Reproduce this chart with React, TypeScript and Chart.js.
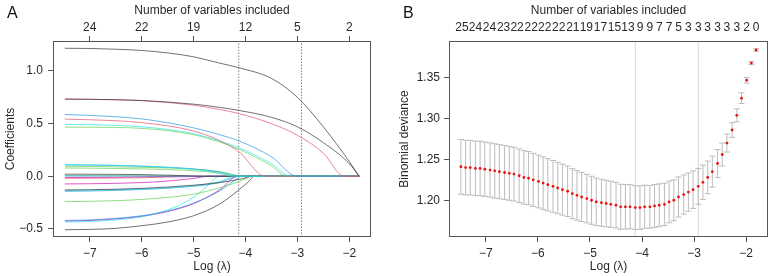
import React, { useEffect, useRef } from "react";
import { Chart, registerables } from "chart.js";
Chart.register(...registerables);

const FONT = "'Liberation Sans', Arial, Helvetica, sans-serif";
const INK = "#2a2a2a";
const FRAME = "#555555";

// ---------- shared lambda grid (log scale) ----------
const LOG_LAMBDA = [
  -7.48, -7.39, -7.30, -7.20, -7.11, -7.02, -6.92, -6.83, -6.74, -6.64,
  -6.55, -6.46, -6.36, -6.27, -6.18, -6.09, -5.99, -5.90, -5.81, -5.71,
  -5.62, -5.53, -5.43, -5.34, -5.25, -5.16, -5.06, -4.97, -4.88, -4.78,
  -4.69, -4.60, -4.50, -4.41, -4.32, -4.23, -4.13, -4.04, -3.95, -3.85,
  -3.76, -3.67, -3.57, -3.48, -3.39, -3.30, -3.20, -3.11, -3.02, -2.92,
  -2.83, -2.74, -2.65, -2.55, -2.46, -2.37, -2.27, -2.18, -2.09, -1.99,
  -1.90, -1.81,
];
const X_MIN = -7.708;
const X_MAX = -1.581;
const X_TICKS = [-7, -6, -5, -4, -3, -2];
const LAMBDA_MIN_LOG = -4.13;
const LAMBDA_1SE_LOG = -2.92;

// ---------- panel B: cross-validation ----------
const CV_MEAN = [
  1.241, 1.240, 1.240, 1.239, 1.239, 1.238, 1.237, 1.236, 1.235, 1.234,
  1.233, 1.232, 1.230, 1.228, 1.227, 1.225, 1.223, 1.221, 1.219, 1.217,
  1.215, 1.213, 1.211, 1.208, 1.206, 1.204, 1.202, 1.200, 1.198, 1.197,
  1.196, 1.195, 1.194, 1.192, 1.192, 1.192, 1.191, 1.191, 1.192, 1.192,
  1.193, 1.194, 1.195, 1.198, 1.200, 1.204, 1.207, 1.210, 1.213, 1.217,
  1.222, 1.228, 1.235, 1.245, 1.256, 1.270, 1.286, 1.304, 1.325, 1.347,
  1.368, 1.384,
];
const CV_SE = [
  0.0335, 0.0335, 0.0334, 0.0334, 0.0333, 0.0333, 0.0332, 0.0332, 0.0331, 0.0330,
  0.0330, 0.0329, 0.0328, 0.0327, 0.0326, 0.0325, 0.0323, 0.0321, 0.0319, 0.0317,
  0.0315, 0.0312, 0.0309, 0.0306, 0.0303, 0.0300, 0.0297, 0.0294, 0.0291, 0.0288,
  0.0285, 0.0282, 0.0279, 0.0276, 0.0273, 0.0270, 0.0268, 0.0266, 0.0264, 0.0262,
  0.0262, 0.0260, 0.0258, 0.0255, 0.0250, 0.0245, 0.0240, 0.0235, 0.0230, 0.0220,
  0.0210, 0.0200, 0.0190, 0.0170, 0.0140, 0.0110, 0.0090, 0.0080, 0.0065, 0.0035,
  0.0020, 0.0015,
];
const NZERO_POS = [
  -7.46, -7.20, -6.93, -6.66, -6.40, -6.13, -5.87, -5.60, -5.33, -5.07, -4.80, -4.53, -4.27,
  -4.04, -3.85, -3.67, -3.48, -3.30, -3.11, -2.92, -2.74, -2.55, -2.37, -2.18, -1.99, -1.81,
];
const NZERO_LABELS = [
  "25", "24", "24", "23", "22", "22", "22", "22", "21", "19", "17", "15", "13",
  "9", "9", "7", "7", "5", "3", "3", "3", "3", "3", "3", "2", "0",
];
const B_Y_MIN = 1.155;
const B_Y_MAX = 1.395;
const B_Y_TICKS = [1.2, 1.25, 1.3, 1.35];

// ---------- panel A: coefficient paths ----------
const COEF_TOP_POS = [-7, -6, -5, -4, -3, -2];
const COEF_TOP_LABELS = ["24", "22", "19", "12", "5", "2"];
const A_Y_MIN = -0.577;
const A_Y_MAX = 1.285;
const A_Y_TICKS = [-0.5, 0, 0.5, 1.0];

const PATH_01 = [[-7.48, 1.216], [-7, 1.214], [-6.5, 1.207], [-6, 1.195], [-5.5, 1.172], [-5, 1.135], [-4.5, 1.075], [-4.12, 1.03], [-3.5, 0.93], [-3, 0.75], [-2.5, 0.47], [-2, 0.14], [-1.81, 0]];
const PATH_02 = [[-7.48, 0.733], [-7, 0.731], [-6, 0.72], [-5, 0.685], [-4.5, 0.655], [-4.12, 0.625], [-3.5, 0.56], [-3, 0.47], [-2.5, 0.32], [-2, 0.12], [-1.81, 0]];
const PATH_03 = [[-7.48, 0.733], [-7, 0.731], [-6, 0.718], [-5, 0.675], [-4.5, 0.635], [-4.12, 0.595], [-3.5, 0.5], [-3, 0.39], [-2.5, 0.22], [-2.1, 0], [-1.81, 0]];
const PATH_04 = [[-7.48, 0.587], [-7, 0.578], [-6, 0.545], [-5, 0.46], [-4.5, 0.395], [-4.12, 0.335], [-3.5, 0.185], [-3.0, 0], [-1.81, 0]];
const PATH_05 = [[-7.48, 0.543], [-7, 0.537], [-6, 0.51], [-5, 0.43], [-4.5, 0.34], [-4.12, 0.23], [-3.62, 0], [-1.81, 0]];
const PATH_06 = [[-7.48, 0.492], [-7, 0.49], [-6, 0.47], [-5, 0.405], [-4.5, 0.335], [-4.12, 0.27], [-3.5, 0.12], [-3.13, 0], [-1.81, 0]];
const PATH_07 = [[-7.48, 0.467], [-7, 0.466], [-6, 0.455], [-5, 0.395], [-4.5, 0.325], [-4.12, 0.255], [-3.5, 0.1], [-3.2, 0], [-1.81, 0]];
const PATH_08 = [[-7.48, 0.111], [-7, 0.109], [-6, 0.098], [-5, 0.065], [-4.5, 0.03], [-4.15, 0], [-1.81, 0]];
const PATH_09 = [[-7.48, 0.108], [-7, 0.106], [-6, 0.095], [-5, 0.07], [-4.5, 0.04], [-4.1, 0], [-1.81, 0]];
const PATH_10 = [[-7.48, 0.095], [-7, 0.093], [-6, 0.085], [-5, 0.068], [-4.5, 0.045], [-4.0, 0], [-1.81, 0]];
const PATH_11 = [[-7.48, 0.079], [-7, 0.077], [-6, 0.07], [-5, 0.052], [-4.5, 0.028], [-4.25, 0], [-1.81, 0]];
const PATH_12 = [[-7.48, 0.02], [-7, 0.019], [-6, 0.016], [-5.5, 0.01], [-5, 0.003], [-4.8, 0], [-1.81, 0]];
const PATH_13 = [[-7.48, 0.003], [-6, 0.002], [-5, 0], [-1.81, 0]];
const PATH_14 = [[-7.48, -0.019], [-7, -0.018], [-6, -0.014], [-5.5, -0.008], [-5, -0.002], [-4.8, 0], [-1.81, 0]];
const PATH_15 = [[-7.48, -0.012], [-6.5, -0.01], [-6, -0.007], [-5.2, 0], [-1.81, 0]];
const PATH_16 = [[-7.48, -0.073], [-7, -0.071], [-6, -0.06], [-5.5, -0.045], [-5, -0.02], [-4.7, 0], [-1.81, 0]];
const PATH_17 = [[-7.48, -0.13], [-7, -0.128], [-6, -0.115], [-5, -0.085], [-4.5, -0.06], [-4.12, -0.03], [-3.85, 0], [-1.81, 0]];
const PATH_18 = [[-7.48, -0.135], [-7, -0.133], [-6, -0.12], [-5, -0.09], [-4.5, -0.05], [-4.2, 0], [-1.81, 0]];
const PATH_19 = [[-7.48, -0.143], [-7, -0.14], [-6, -0.126], [-5, -0.095], [-4.5, -0.06], [-4.1, 0], [-1.81, 0]];
const PATH_20 = [[-7.48, -0.241], [-7, -0.238], [-6, -0.22], [-5, -0.17], [-4.5, -0.11], [-4.12, -0.05], [-3.85, 0], [-1.81, 0]];
const PATH_21 = [[-7.48, -0.419], [-7, -0.415], [-6.5, -0.4], [-6, -0.375], [-5.5, -0.33], [-5, -0.255], [-4.5, -0.14], [-4.12, -0.01], [-4.08, 0], [-1.81, 0]];
const PATH_22 = [[-7.48, -0.435], [-7, -0.43], [-6.5, -0.415], [-6, -0.385], [-5.5, -0.32], [-5, -0.2], [-4.75, -0.1], [-4.5, 0], [-1.81, 0]];
const PATH_23 = [[-7.48, -0.425], [-7, -0.42], [-6.5, -0.405], [-6, -0.38], [-5.5, -0.335], [-5, -0.26], [-4.5, -0.13], [-4.15, 0], [-1.81, 0]];
const PATH_24 = [[-7.48, -0.508], [-7, -0.505], [-6.5, -0.495], [-6, -0.47], [-5.5, -0.435], [-5, -0.375], [-4.5, -0.265], [-4.13, -0.13], [-3.9, -0.03], [-3.85, 0], [-1.81, 0]];
const PATH_25 = [[-7.48, 0.006], [-6, 0.004], [-5, 0], [-1.81, 0]];

const PATHS = [
  PATH_01, PATH_02, PATH_03, PATH_04, PATH_05, PATH_06, PATH_07, PATH_08, PATH_09, PATH_10,
  PATH_11, PATH_12, PATH_13, PATH_14, PATH_15, PATH_16, PATH_17, PATH_18, PATH_19, PATH_20,
  PATH_21, PATH_22, PATH_23, PATH_24, PATH_25,
];
const R_BLACK = "#333333";
const R_RED = "#DF536B";
const R_GREEN = "#61D04F";
const R_BLUE = "#2297E6";
const R_CYAN = "#28E2E5";
const R_MAGENTA = "#CD0BBC";
const PATH_COLORS = [
  R_BLACK, R_BLACK, R_RED, R_BLUE, R_RED, R_CYAN, R_GREEN, R_CYAN, R_BLUE, R_GREEN,
  R_GREEN, R_BLACK, R_BLUE, R_RED, R_MAGENTA, R_MAGENTA, R_BLACK, R_CYAN, R_BLUE, R_GREEN,
  R_BLUE, R_CYAN, R_MAGENTA, R_BLACK, R_GREEN,
];

// ---------- helpers ----------
const fmt = (v: number, d: number) => {
  const s = Math.abs(v) < 1e-9 ? (0).toFixed(d) : v.toFixed(d);
  return s.replace("-", "\u2212");
};
const tickFont = { family: FONT, size: 12 };
const titleFont = { family: FONT, size: 12 };

const boxPlugin = {
  id: "rbox",
  afterDatasetsDraw(chart: any) {
    const { ctx, chartArea: a } = chart;
    ctx.save();
    ctx.strokeStyle = FRAME;
    ctx.lineWidth = 1;
    ctx.strokeRect(Math.round(a.left) + 0.5, Math.round(a.top) + 0.5, Math.round(a.right - a.left) - 1, Math.round(a.bottom - a.top) - 1);
    ctx.restore();
  },
};

const bottomAxis = () => ({
  type: "linear",
  position: "bottom",
  min: X_MIN,
  max: X_MAX,
  border: { display: false },
  grid: { drawOnChartArea: false, drawTicks: true, tickLength: 5, color: FRAME, lineWidth: 1 },
  ticks: { font: tickFont, color: INK, padding: 4, maxRotation: 0, autoSkip: false, callback: (v: number) => fmt(v, 0) },
  afterBuildTicks: (ax: any) => { ax.ticks = X_TICKS.map((v) => ({ value: v })); },
  afterFit: (ax: any) => { ax.height = 39; },
  title: { display: true, text: "Log (\u03bb)", font: titleFont, color: INK, padding: { top: 0, bottom: 2 } },
});

function useChart(ref: any, makeConfig: () => any) {
  useEffect(() => {
    if (!ref.current) return;
    const chart = new Chart(ref.current, makeConfig());
    return () => chart.destroy();
  }, []);
}

const configA = () => {
  const datasets: any[] = PATHS.map((p, i) => ({
    data: p.map(([x, y]) => ({ x, y })),
    borderColor: PATH_COLORS[i],
    borderWidth: 0.7,
    pointRadius: 0,
    showLine: true,
    cubicInterpolationMode: "monotone",
  }));
  [LAMBDA_MIN_LOG, LAMBDA_1SE_LOG].forEach((lx) => {
    datasets.push({
      data: [{ x: lx, y: A_Y_MIN }, { x: lx, y: A_Y_MAX }],
      borderColor: "#666666",
      borderWidth: 0.8,
      borderDash: [1.5, 1.5],
      pointRadius: 0,
      showLine: true,
    });
  });
  return {
    type: "scatter",
    data: { datasets },
    plugins: [boxPlugin],
    options: {
      responsive: false,
      animation: false,
      layout: { padding: { left: 0, right: 17, top: 0, bottom: 0 } },
      plugins: { legend: { display: false }, tooltip: { enabled: false } },
      scales: {
        x: bottomAxis(),
        xTop: {
          type: "linear",
          position: "top",
          min: X_MIN,
          max: X_MAX,
          border: { display: false },
          grid: { drawOnChartArea: false, drawTicks: true, tickLength: 5, color: FRAME, lineWidth: 1 },
          ticks: { font: tickFont, color: INK, padding: 1.3, maxRotation: 0, autoSkip: false, callback: (_v: number, i: number) => COEF_TOP_LABELS[i] },
          afterBuildTicks: (ax: any) => { ax.ticks = COEF_TOP_POS.map((v) => ({ value: v })); },
          afterFit: (ax: any) => { ax.height = 41; },
          title: { display: true, text: "Number of variables included", font: titleFont, color: INK, padding: { top: 3, bottom: 0 } },
        },
        y: {
          type: "linear",
          position: "left",
          min: A_Y_MIN,
          max: A_Y_MAX,
          border: { display: false },
          grid: { drawOnChartArea: false, drawTicks: true, tickLength: 5, color: FRAME, lineWidth: 1 },
          ticks: { font: tickFont, color: INK, padding: 5, autoSkip: false, callback: (v: number) => fmt(v, 1) },
          afterBuildTicks: (ax: any) => { ax.ticks = A_Y_TICKS.map((v) => ({ value: v })); },
          afterFit: (ax: any) => { ax.width = 53; },
          title: { display: true, text: "Coefficients", font: titleFont, color: INK, padding: { top: 3, bottom: 0 } },
        },
      },
    },
  };
};

const configB = () => {
  const pts = LOG_LAMBDA.map((x, i) => ({ x, y: CV_MEAN[i] }));
  const up = LOG_LAMBDA.map((x, i) => ({ x, y: CV_MEAN[i] + CV_SE[i] }));
  const lo = LOG_LAMBDA.map((x, i) => ({ x, y: CV_MEAN[i] - CV_SE[i] }));
  const bars: any[] = [];
  LOG_LAMBDA.forEach((x, i) => {
    bars.push({ x, y: CV_MEAN[i] - CV_SE[i] }, { x, y: CV_MEAN[i] + CV_SE[i] }, { x, y: null });
  });
  const refs = [
    { x: LAMBDA_MIN_LOG, y: B_Y_MIN }, { x: LAMBDA_MIN_LOG, y: B_Y_MAX }, { x: LAMBDA_MIN_LOG, y: null },
    { x: LAMBDA_1SE_LOG, y: B_Y_MIN }, { x: LAMBDA_1SE_LOG, y: B_Y_MAX },
  ];
  const barColor = "#bcbcbc";
  return {
    type: "scatter",
    data: {
      datasets: [
        { data: pts, pointRadius: 1.4, pointBackgroundColor: "#ee1111", pointBorderWidth: 0, showLine: false },
        { data: up, pointStyle: "line", pointRadius: 3, pointBorderColor: barColor, pointBorderWidth: 1, showLine: false },
        { data: lo, pointStyle: "line", pointRadius: 3, pointBorderColor: barColor, pointBorderWidth: 1, showLine: false },
        { data: bars, borderColor: barColor, borderWidth: 1, pointRadius: 0, showLine: true, spanGaps: false },
        { data: refs, borderColor: "#d8d8d8", borderWidth: 1, pointRadius: 0, showLine: true, spanGaps: false },
      ],
    },
    plugins: [boxPlugin],
    options: {
      responsive: false,
      animation: false,
      layout: { padding: { left: 0, right: 8, top: 0, bottom: 0 } },
      plugins: { legend: { display: false }, tooltip: { enabled: false } },
      scales: {
        x: bottomAxis(),
        xTop: {
          type: "linear",
          position: "top",
          min: X_MIN,
          max: X_MAX,
          border: { display: false },
          grid: { display: false, drawTicks: false },
          ticks: { font: tickFont, color: INK, padding: 6.3, maxRotation: 0, autoSkip: false, callback: (_v: number, i: number) => NZERO_LABELS[i] },
          afterBuildTicks: (ax: any) => { ax.ticks = NZERO_POS.map((v) => ({ value: v })); },
          afterFit: (ax: any) => { ax.height = 41; },
          title: { display: true, text: "Number of variables included", font: titleFont, color: INK, padding: { top: 3, bottom: 0 } },
        },
        y: {
          type: "linear",
          position: "left",
          min: B_Y_MIN,
          max: B_Y_MAX,
          border: { display: false },
          grid: { drawOnChartArea: false, drawTicks: true, tickLength: 5, color: FRAME, lineWidth: 1 },
          ticks: { font: tickFont, color: INK, padding: 4, autoSkip: false, callback: (v: number) => fmt(v, 2) },
          afterBuildTicks: (ax: any) => { ax.ticks = B_Y_TICKS.map((v) => ({ value: v })); },
          afterFit: (ax: any) => { ax.width = 61; },
          title: { display: true, text: "Binomial deviance", font: titleFont, color: INK, padding: { top: 9.8, bottom: 0 } },
        },
      },
    },
  };
};

export default function App() {
  const refA = useRef<HTMLCanvasElement>(null);
  const refB = useRef<HTMLCanvasElement>(null);
  useChart(refA, configA);
  useChart(refB, configB);
  const panelLabel = { position: "absolute" as const, top: 4, font: `16px ${FONT}`, color: "#111" };
  return (
    <div style={{ position: "fixed", left: 0, top: 0, width: 776, height: 276, background: "#ffffff", overflow: "hidden" }}>
      <canvas ref={refA} width={388} height={276} style={{ position: "absolute", left: 0, top: 0 }} />
      <canvas ref={refB} width={388} height={276} style={{ position: "absolute", left: 388, top: 0 }} />
      <div style={{ ...panelLabel, left: 7 }}>A</div>
      <div style={{ ...panelLabel, left: 403 }}>B</div>
    </div>
  );
}
